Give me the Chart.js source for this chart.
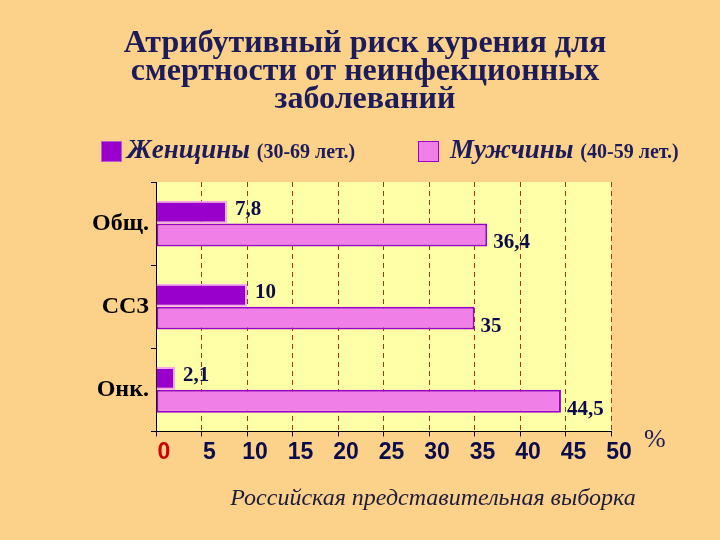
<!DOCTYPE html>
<html><head><meta charset="utf-8">
<script src="https://cdn.jsdelivr.net/npm/chart.js@4"></script>
<style>
body{margin:0;background:#fcd18a;}
#w{position:relative;width:720px;height:540px;background:#fcd18a;overflow:hidden;font-family:"Liberation Serif",serif;}
#c{position:absolute;left:0;top:0;}
.t{position:absolute;color:#1c1c5c;white-space:nowrap;}
</style></head><body>
<div id="w">
<canvas id="c" width="720" height="540"></canvas>
<div class="t" style="left:0;width:730px;top:27px;text-align:center;font-weight:bold;font-size:32px;line-height:28px;">Атрибутивный риск курения для<br>смертности от неинфекционных<br>заболеваний</div>
<div style="position:absolute;left:101px;top:141px;width:19px;height:19px;background:#9900cc;border:1px solid #b060d0"></div>
<div class="t" style="left:127px;top:134px;font-size:27px;font-weight:bold;font-style:italic;">Женщины <span style="font-size:20px;font-style:normal">(30-69 лет.)</span></div>
<div style="position:absolute;left:418px;top:141px;width:19px;height:19px;background:#f080e8;border:1px solid #9900cc"></div>
<div class="t" style="left:450px;top:134px;font-size:27px;font-weight:bold;font-style:italic;">Мужчины <span style="font-size:20px;font-style:normal">(40-59 лет.)</span></div>
<div class="t" style="left:644px;top:424px;font-size:26px;">%</div>
<div class="t" style="left:0;width:866px;top:484px;text-align:center;font-size:24px;font-style:italic;color:#1c1c3c;">Российская представительная выборка</div>
</div>
<script>
const categories=["Общ.","ССЗ","Онк."];
const women=[7.8,10,2.1];
const men=[36.4,35,44.5];
const xTicks=[0,5,10,15,20,25,30,35,40,45,50];
const labelPlugin={id:'lbl',afterDatasetsDraw(ch){
 const ctx=ch.ctx;ctx.save();ctx.font='bold 21px "Liberation Serif"';ctx.fillStyle='#0c0c4c';ctx.textBaseline='middle';
 ch.data.datasets.forEach((ds,i)=>{ch.getDatasetMeta(i).data.forEach((b,j)=>{
  const s=String(ds.data[j]).replace('.',',');
  if(i===0)ctx.fillText(s,b.x+8,b.y-3);else ctx.fillText(s,b.x+6,b.y+8);
 });});ctx.restore();}};
new Chart(document.getElementById('c'),{type:'bar',
 data:{labels:categories,datasets:[
  {data:women,backgroundColor:'#9900cc',borderColor:'#f8a8f0',borderWidth:2,borderSkipped:'left'},
  {data:men,backgroundColor:'#f080e8',borderColor:'#9900cc',borderWidth:2,borderSkipped:false}]},
 options:{indexAxis:'y',responsive:false,animation:false,
  layout:{padding:{left:0,right:109,top:182,bottom:72}},
  plugins:{legend:{display:false},tooltip:{enabled:false}},
  datasets:{bar:{categoryPercentage:0.55,barPercentage:1}},
  scales:{
   x:{min:0,max:50,afterBuildTicks(a){a.ticks=xTicks.map(v=>({value:v}));},
    grid:{color:'#b03010',lineWidth:1,tickLength:5,tickColor:'#000'},
    border:{color:'#000',width:1,dash:[5,4]},
    ticks:{labelOffset:8,padding:2,font:{family:'Liberation Sans',weight:'bold',size:23},color:c=>c.tick.value===0?'#cc0000':'#0c0c4c'}},
   y:{afterFit(a){a.width=156;},
    grid:{drawOnChartArea:false,tickLength:5,color:'#000'},
    border:{color:'#000',width:1},
    ticks:{padding:2,font:{family:'Liberation Serif',weight:'bold',size:24},color:'#000'}}
  }},
 plugins:[labelPlugin,{id:'bg',beforeDraw(ch){const a=ch.chartArea,c=ch.ctx;c.save();c.fillStyle='#ffffa8';c.fillRect(a.left,a.top,a.right-a.left,a.bottom-a.top);c.restore();}}]
});
</script></body></html>
